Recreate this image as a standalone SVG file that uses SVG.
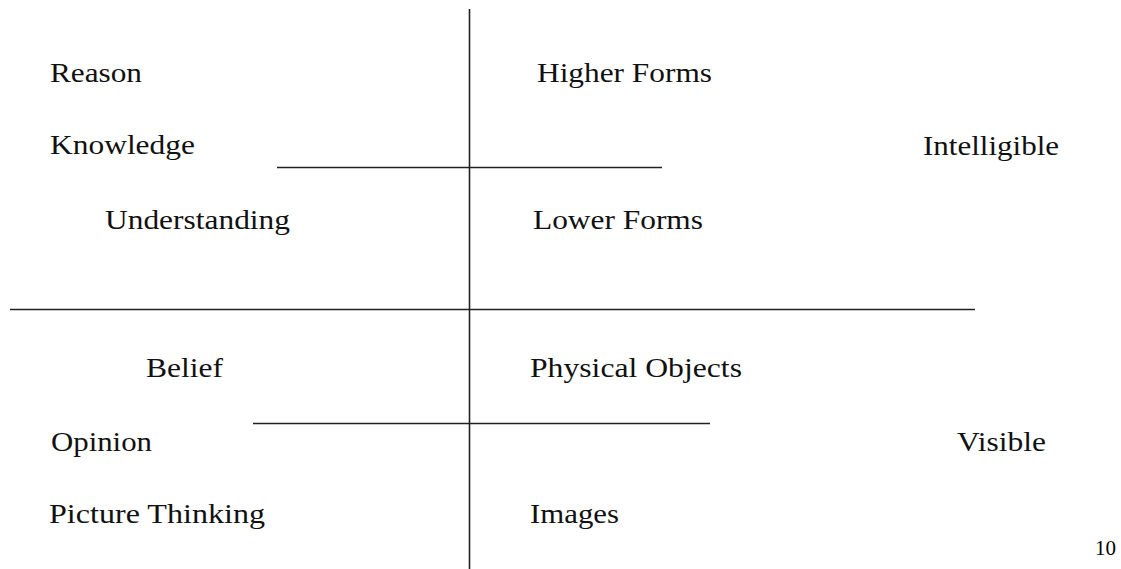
<svg xmlns="http://www.w3.org/2000/svg" width="1121" height="569" viewBox="0 0 1121 569">
<style>
.t{font-family:"Liberation Serif","Times New Roman",serif;font-size:28px;fill:#111}
.p{font-family:"Liberation Serif","Times New Roman",serif;font-size:21px;fill:#000}
.l{stroke:#222;stroke-width:1.6;fill:none}
</style>
<rect width="1121" height="569" fill="#fff"/>
<g id="connectors">
<line class="l" x1="469.5" y1="9" x2="469.5" y2="569"/>
<line class="l" x1="277" y1="167.5" x2="662" y2="167.5"/>
<line class="l" x1="10" y1="309.5" x2="975" y2="309.5"/>
<line class="l" x1="253" y1="423.5" x2="710" y2="423.5"/>
</g>
<g id="reason"><text class="t" x="50" y="82" textLength="92" lengthAdjust="spacingAndGlyphs">Reason</text></g>
<g id="knowledge"><text class="t" x="50" y="154" textLength="145" lengthAdjust="spacingAndGlyphs">Knowledge</text></g>
<g id="understanding"><text class="t" x="105" y="229" textLength="185" lengthAdjust="spacingAndGlyphs">Understanding</text></g>
<g id="higher-forms"><text class="t" x="537" y="82" textLength="175" lengthAdjust="spacingAndGlyphs">Higher Forms</text></g>
<g id="lower-forms"><text class="t" x="533" y="229" textLength="170" lengthAdjust="spacingAndGlyphs">Lower Forms</text></g>
<g id="intelligible"><text class="t" x="923" y="155" textLength="136" lengthAdjust="spacingAndGlyphs">Intelligible</text></g>
<g id="belief"><text class="t" x="146" y="377" textLength="77" lengthAdjust="spacingAndGlyphs">Belief</text></g>
<g id="physical-objects"><text class="t" x="530" y="377" textLength="212" lengthAdjust="spacingAndGlyphs">Physical Objects</text></g>
<g id="opinion"><text class="t" x="51" y="451" textLength="101" lengthAdjust="spacingAndGlyphs">Opinion</text></g>
<g id="visible"><text class="t" x="957" y="451" textLength="89" lengthAdjust="spacingAndGlyphs">Visible</text></g>
<g id="picture-thinking"><text class="t" x="49" y="523" textLength="216" lengthAdjust="spacingAndGlyphs">Picture Thinking</text></g>
<g id="images"><text class="t" x="530" y="523" textLength="89" lengthAdjust="spacingAndGlyphs">Images</text></g>
<g id="page-number"><text class="p" x="1095" y="555">10</text></g>
</svg>
